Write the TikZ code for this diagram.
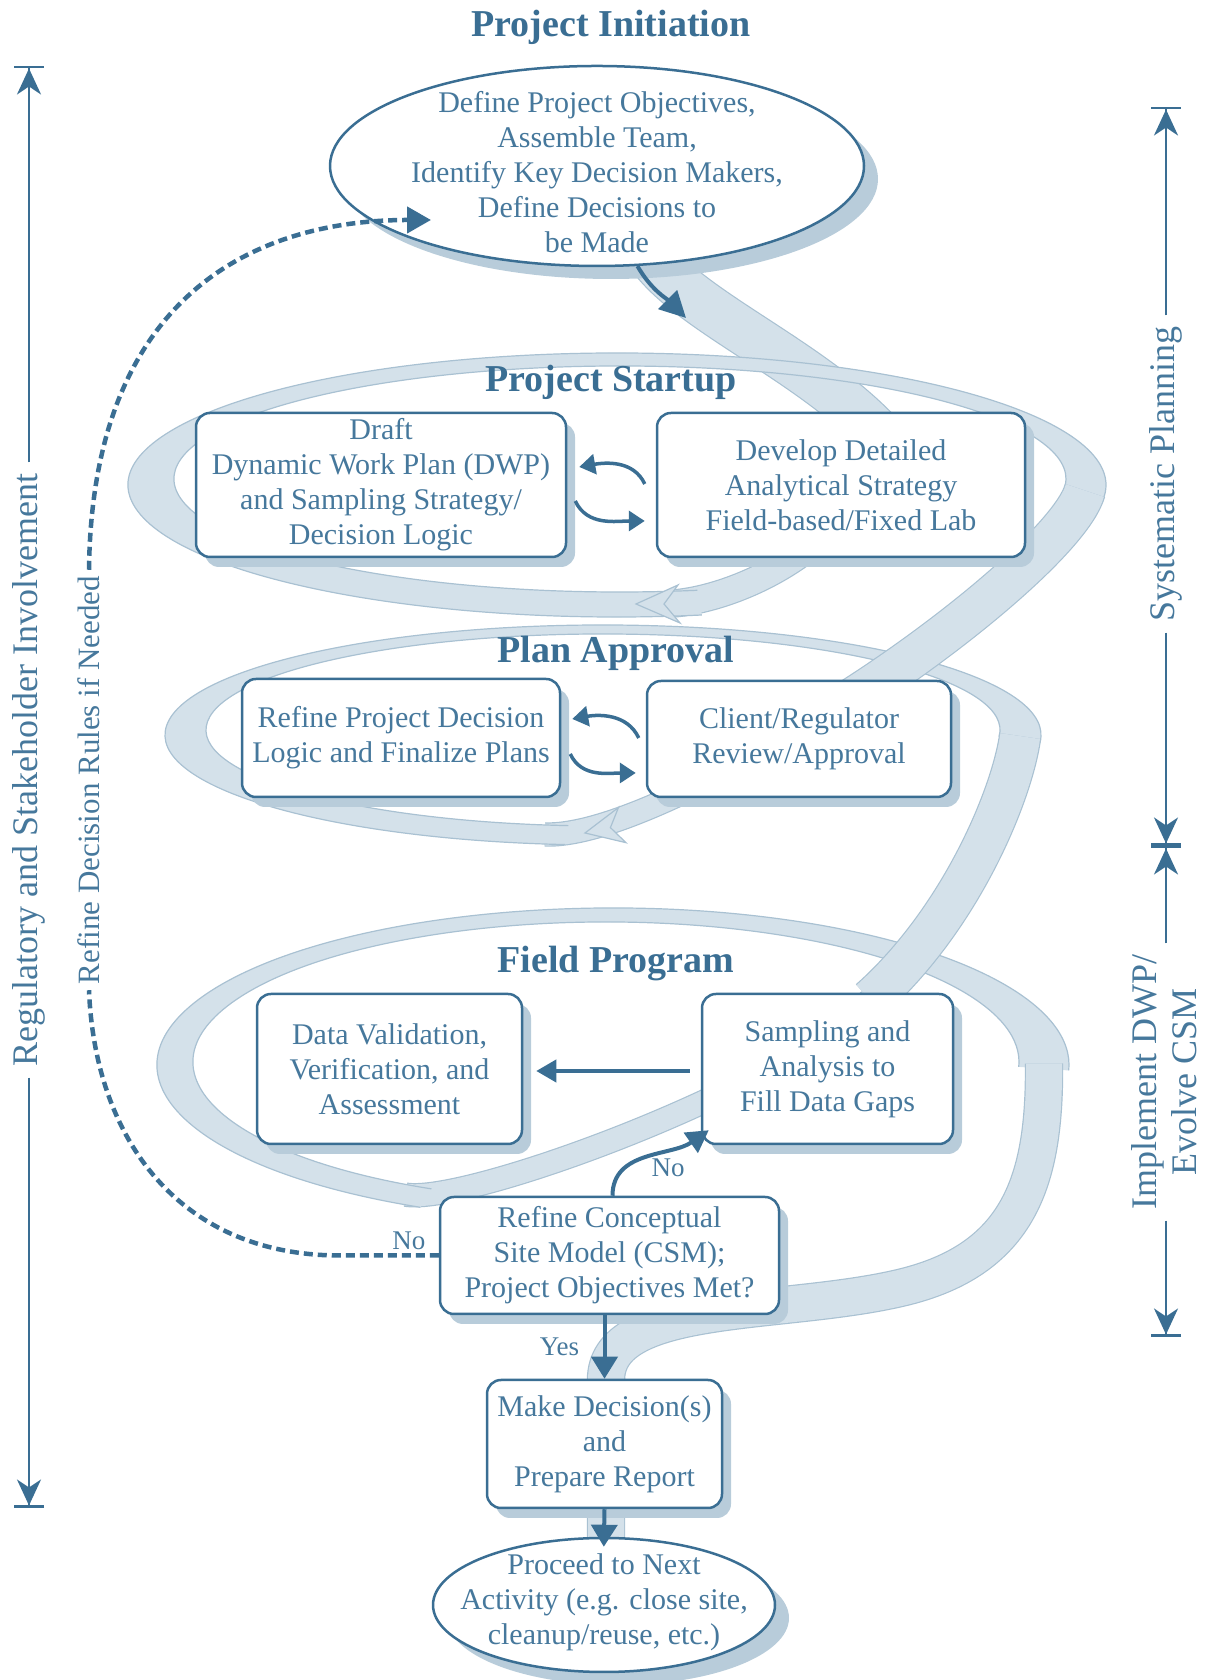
\documentclass[tikz,border=0pt]{standalone}
\usepackage{fontspec}
\setmainfont{Liberation Serif}
\usetikzlibrary{arrows.meta,shadows,positioning,shapes,calc}

\definecolor{dwpblue}{HTML}{3A6E93}
\definecolor{dwptext}{HTML}{46789C}
\definecolor{bandfill}{HTML}{D4E1EA}
\definecolor{bandline}{HTML}{A9C1D2}
\definecolor{shadowblue}{HTML}{B8CCDA}

\newcommand{\boxfont}{\fontsize{30}{35}\selectfont}
\newcommand{\phasefont}{\fontsize{38}{44}\selectfont\bfseries}
\newcommand{\sidefont}{\fontsize{36}{40}\selectfont}
\newcommand{\notefont}{\fontsize{31}{36}\selectfont}
\newcommand{\answerfont}{\fontsize{27}{30}\selectfont}

% one turn of the ribbon: outer centre, radii, inner centre, radii, start and end angle
\newcommand{\loopband}[8]{%
  \fill[bandfill] ($(#1)+(#7:#2pt and #3pt)$) arc[start angle=#7, end angle=#8, x radius=#2pt, y radius=#3pt]
    -- ($(#4)+(#8:#5pt and #6pt)$) arc[start angle=#8, end angle=#7, x radius=#5pt, y radius=#6pt] -- cycle;
  \draw[bandline, line width=1.2pt] ($(#1)+(#7:#2pt and #3pt)$) arc[start angle=#7, end angle=#8, x radius=#2pt, y radius=#3pt];
  \draw[bandline, line width=1.2pt] ($(#4)+(#7:#5pt and #6pt)$) arc[start angle=#7, end angle=#8, x radius=#5pt, y radius=#6pt];
}

\tikzset{
  band/.style={draw=bandline, line width=1.2pt, double=bandfill, double distance=#1},
  bandhead/.style={fill=bandfill, draw=bandline, line width=1.2pt},
  spanline/.style={draw=dwpblue, line width=2.5pt,
    -{Stealth[length=26pt,width=24pt,inset=8pt]Bar[width=30pt]}},
  sidetext/.style={text=dwptext, font=\sidefont, inner sep=11pt}
}

\begin{document}
\begin{tikzpicture}[x=1pt, y=1pt, >={Triangle[length=22pt,width=26pt]},
    stagebox/.style={draw=dwpblue, line width=2.5pt, rounded corners=14pt, fill=white,
      align=center, text=dwptext, font=\boxfont, inner sep=0pt,
      drop shadow={shadow xshift=9pt, shadow yshift=-10pt, fill=shadowblue, opacity=1}},
    oval/.style={ellipse, draw=dwpblue, line width=2.5pt, fill=white, inner sep=0pt,
      drop shadow={shadow xshift=14pt, shadow yshift=-13pt, fill=shadowblue, opacity=1}},
    ovaltext/.style={align=center, text=dwptext, font=\boxfont},
    phase/.style={text=dwpblue, font=\phasefont},
    flow/.style={->, draw=dwpblue, line width=4pt},
    turn/.style={->, >={Triangle[length=16pt,width=20pt]}, draw=dwpblue, line width=3.5pt},
    loopback/.style={draw=dwpblue, line width=4.5pt, dash pattern=on 9pt off 5pt},
    answer/.style={text=dwptext, font=\answerfont}]

  \useasboundingbox (0,0) rectangle (1204,1680);

  % ribbon: where each turn starts and ends
  \coordinate (sts) at (667.4,1076.2);
  \coordinate (ste) at (1084.9,1189.5);
  \coordinate (aps) at (544.9,845.5);
  \coordinate (ape) at (1020.2,943.9);
  \coordinate (fds) at (405.5,485.4);
  \coordinate (fde) at (1044,616.5);

  % ribbon: pieces running into a turn
  \draw[band=46pt] (640,1445) .. controls (660,1380) and (800,1330) .. (880,1245);
  \draw[band=26pt] (880,1245) .. controls (860,1130) and (727.4,1077.9) .. (sts);
  \draw[band=22pt] (850,980) .. controls (720,900) and (604.9,843.4) .. (aps);
  \draw[band=22pt] (870,680) .. controls (780,590) and (464.5,474.7) .. (fds);

  % ribbon: the three turns
  \loopband{617,1195}{489}{132}{620,1201}{446}{113}{-80}{-366}
  \loopband{603,945}{438}{110}{603,950}{397}{96}{-95}{-364}
  \loopband{613,615}{456}{157}{606,618}{413}{140}{-115}{-362}

  % ribbon: pieces leaving a turn
  \draw[band=40pt] (ste) .. controls (1073,1146) and (960,1050) .. (850,980);
  \draw[band=40pt] (ape) .. controls (1012,884.5) and (960,760) .. (870,680);
  \draw[band=36pt] (fde) .. controls (1045,500) and (1020,420) .. (900,392)
    .. controls (780,364) and (606,380) .. (606,300) -- (606,140);

  \filldraw[bandhead] (636,1076) -- (678,1095) -- (664,1076) -- (680,1057) -- cycle;
  \filldraw[bandhead] (585,847) -- (626,837.3) -- (610.4,852.4) -- (618.5,872.5) -- cycle;

  % phases
  \node[phase] (inittitle) at (611,1653) {Project Initiation};
  \node[oval, minimum width=534pt, minimum height=200pt] (init) at (597,1514) {};
  \node[ovaltext] (inittext) at ([yshift=-6pt]init.center)
    {Define Project Objectives,\\Assemble Team,\\Identify Key Decision Makers,\\Define Decisions to\\be Made};

  \node[phase] (startuptitle) at (611,1298) {Project Startup};
  \node[stagebox, minimum width=370pt, minimum height=144pt] (draft) at (381,1195)
    {Draft\\Dynamic Work Plan (DWP)\\and Sampling Strategy/\\Decision Logic};
  \node[stagebox, minimum width=368pt, minimum height=144pt] (develop) at (841,1195)
    {Develop Detailed\\Analytical Strategy\\Field-based/Fixed Lab};

  \node[phase] (approvaltitle) at (616,1027) {Plan Approval};
  \node[stagebox, minimum width=318pt, minimum height=118pt] (refineplan) at (401,942)
    {Refine Project Decision\\Logic and Finalize Plans};
  \node[stagebox, minimum width=304pt, minimum height=116pt] (client) at (799,941)
    {Client/Regulator\\Review/Approval};

  \node[phase] (fieldtitle) at (616,716) {Field Program};
  \node[stagebox, minimum width=265pt, minimum height=150pt] (datavalid) at (389.5,611)
    {Data Validation,\\Verification, and\\Assessment};
  \node[stagebox, minimum width=251pt, minimum height=150pt] (sampling) at (827.5,611)
    {Sampling and\\Analysis to\\Fill Data Gaps};

  \node[stagebox, minimum width=339pt, minimum height=117pt] (csm) at (609.5,424.5)
    {Refine Conceptual\\Site Model (CSM);\\Project Objectives Met?};
  \node[stagebox, minimum width=235pt, minimum height=128pt] (decide) at (604.5,236)
    {Make Decision(s)\\and\\Prepare Report};
  \node[oval, minimum width=342pt, minimum height=134pt] (proceed) at (604,75) {};
  \node[ovaltext] (proceedtext) at ([yshift=3pt]proceed.center)
    {Proceed to Next\\Activity (e.g. close site,\\cleanup/reuse, etc.)};

  % connectors
  \coordinate (startupin) at (686,1362);
  \draw[flow, >={Triangle[length=26pt,width=26pt]}] (init.-68) to[out=-60, in=135] (startupin);

  \draw[turn] ([xshift=-11pt,yshift=1pt]develop.west) to[out=115, in=10] ([xshift=12pt,yshift=18pt]draft.east);
  \draw[turn] ([xshift=8pt,yshift=-16pt]draft.east) to[out=-65, in=180] ([xshift=-11pt,yshift=-36pt]develop.west);
  \draw[turn] ([xshift=-7pt,yshift=1pt]client.west) to[out=115, in=10] ([xshift=11pt,yshift=19pt]refineplan.east);
  \draw[turn] ([xshift=9pt,yshift=-16pt]refineplan.east) to[out=-65, in=180] ([xshift=-10pt,yshift=-34pt]client.west);

  \draw[flow, >={Triangle[length=20pt,width=22pt]}] ([xshift=-11pt,yshift=-2pt]sampling.west) -- ([xshift=13pt,yshift=-2pt]datavalid.east);
  \draw[flow, >={Triangle[length=22pt,width=24pt]}] ([xshift=3pt]csm.north) to[out=90, in=215]
    ([xshift=8pt,yshift=15pt]sampling.south west);
  \node[answer] (retry) at (668,512) {No};
  \draw[flow] (csm.south -| decide.north) -- node[answer, left=20pt] {Yes} (decide.north);
  \draw[flow, shorten >=-10pt] (decide.south) -- (proceed.north);

  % decision rules loop back
  \coordinate (revisit) at (431,1460);
  \node[rotate=90, text=dwptext, font=\notefont, inner sep=6pt] (rulelbl) at (89,900)
    {Refine Decision Rules if Needed};
  \draw[loopback] (csm.west) -- node[answer, above, pos=0.3] {No} ++(-100,0)
    .. controls (180,425) and (95,540) .. (rulelbl.west);
  \draw[loopback, ->, >={Triangle[length=24pt,width=26pt]}] (rulelbl.east)
    .. controls (92,1380) and (250,1460) .. (revisit);

  % side spans
  \coordinate (regtop) at (29,1614);
  \coordinate (regbot) at (29,172);
  \node[rotate=90, sidetext] (reglbl) at (29,910) {Regulatory and Stakeholder Involvement};
  \draw[spanline] (reglbl.east) -- (regtop);
  \draw[spanline] (reglbl.west) -- (regbot);

  \coordinate (plantop) at (1166,1573);
  \coordinate (planmid) at (1166,834);
  \coordinate (planbot) at (1166,343);
  \node[rotate=90, sidetext] (planlbl) at (1166,1206) {Systematic Planning};
  \node[rotate=90, sidetext, align=center] (evolvelbl) at (1164,598) {Implement DWP/\\Evolve CSM};
  \draw[spanline] (planlbl.east) -- (plantop);
  \draw[spanline] (planlbl.west) -- (planmid);
  \draw[spanline] (evolvelbl.east -| planmid) -- (planmid);
  \draw[spanline] (evolvelbl.west -| planmid) -- (planbot);
\end{tikzpicture}
\end{document}
